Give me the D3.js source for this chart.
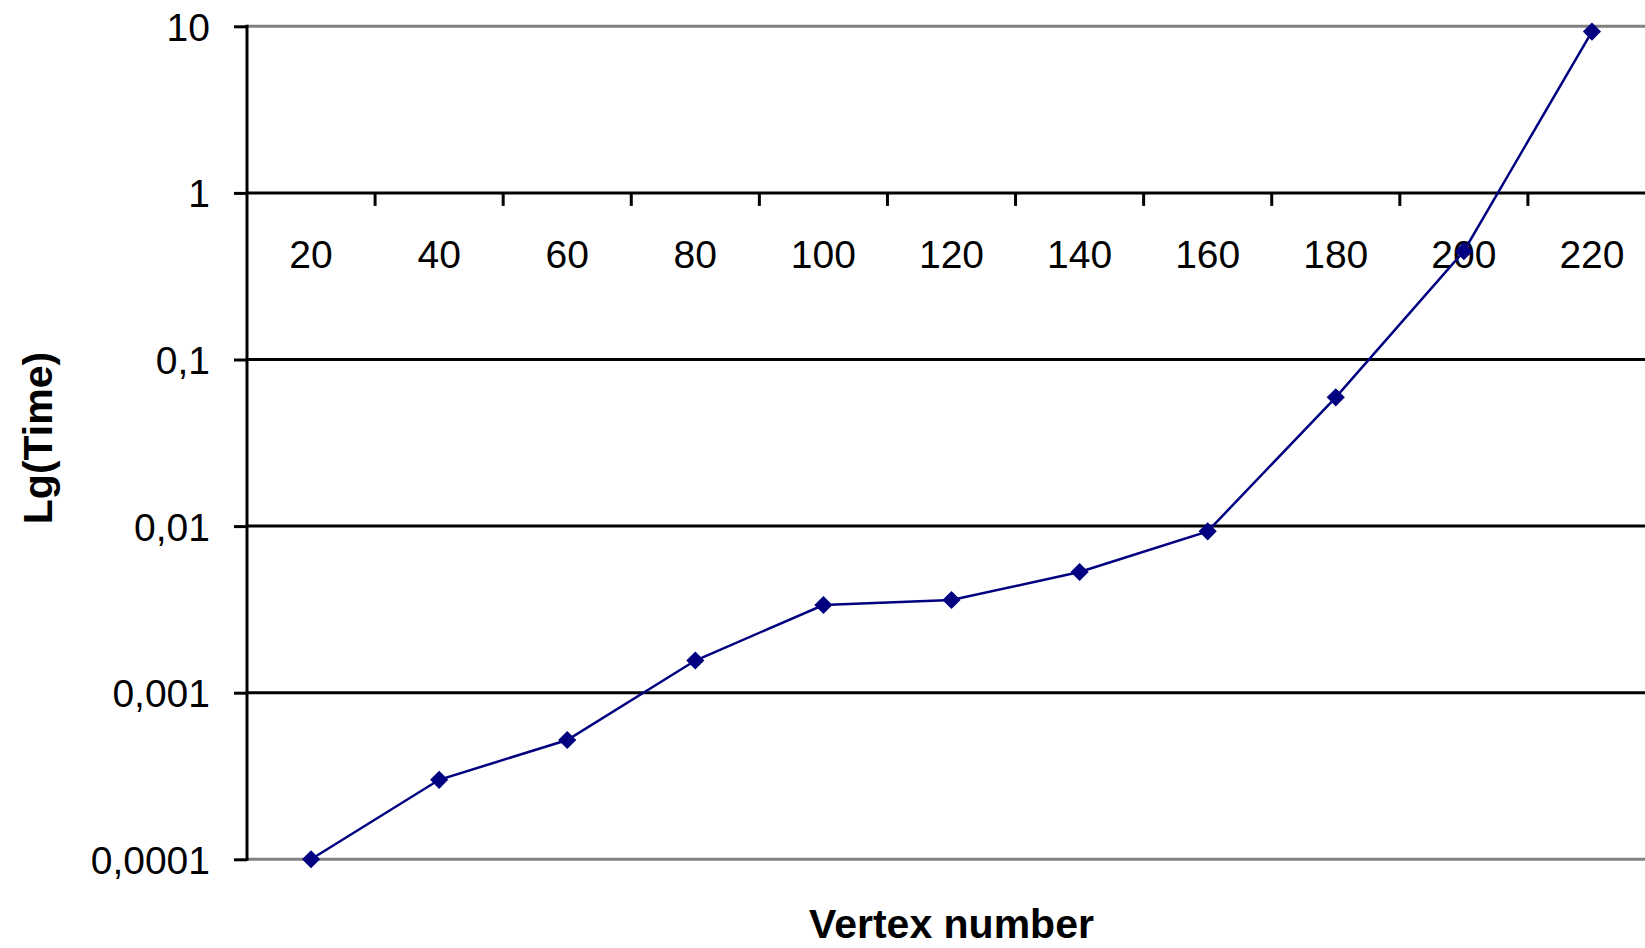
<!DOCTYPE html>
<html>
<head>
<meta charset="utf-8">
<script src="https://cdn.jsdelivr.net/npm/d3@7"></script>
<style>
  html, body { margin: 0; padding: 0; background: #fff; overflow: hidden; }
  text { font-family: "Liberation Sans", Arial, sans-serif; }
</style>
</head>
<body>
<div id="main"></div>
<script>
var ctx = {
    w: 1645,
    h: 948,
    NAVY: "#000080",
};

// data
var vertices = [20, 40, 60, 80, 100, 120, 140, 160, 180, 200, 220];
var times = [0.0001, 0.0003, 0.00052, 0.00156, 0.00336, 0.0036, 0.0053, 0.0093, 0.0593, 0.447, 9.3];
var yTicks = [10, 1, 0.1, 0.01, 0.001, 0.0001];
var yTickLabels = ["10", "1", "0,1", "0,01", "0,001", "0,0001"];

var createViz = function(){
    var svg = d3.select("#main").append("svg")
        .attr("width", ctx.w)
        .attr("height", ctx.h);

    ctx.xScale = d3.scaleBand().domain(vertices).range([247, 1656]);
    ctx.yScale = d3.scaleLog().domain([0.0001, 10]).range([859.3, 26.3]);

    var bkg = svg.append("g").attr("id", "bkgG");
    var x0 = ctx.xScale.range()[0], x1 = ctx.xScale.range()[1];

    // horizontal gridlines (outer ones are the grey plot border)
    bkg.selectAll("line.grid")
        .data(yTicks)
        .enter()
        .append("line")
        .attr("class", "grid")
        .attr("x1", x0)
        .attr("x2", x1)
        .attr("y1", function(d){ return ctx.yScale(d); })
        .attr("y2", function(d){ return ctx.yScale(d); })
        .style("stroke", function(d, i){ return (i == 0 || i == yTicks.length - 1) ? "#808080" : "#000"; })
        .style("stroke-width", 3);

    // y axis
    var yAxis = bkg.append("g")
        .attr("transform", "translate(" + x0 + ",0)")
        .call(d3.axisLeft(ctx.yScale)
            .tickValues(yTicks)
            .tickSize(13)
            .tickPadding(24)
            .tickFormat(function(d, i){ return yTickLabels[i]; }));
    yAxis.select(".domain").remove();
    yAxis.selectAll(".tick line").style("stroke", "#000").style("stroke-width", 3);
    yAxis.selectAll("text")
        .attr("fill", "#000")
        .style("font-size", "39px")
        .attr("dy", "0.36em");
    bkg.append("line")
        .attr("x1", x0).attr("x2", x0)
        .attr("y1", ctx.yScale(10) - 1.5)
        .attr("y2", ctx.yScale(0.0001) + 1.5)
        .style("stroke", "#000")
        .style("stroke-width", 3);

    // x axis crosses at 1, ticks between categories
    var y1 = ctx.yScale(1);
    var step = ctx.xScale.step();
    bkg.selectAll("line.xtick")
        .data(vertices.slice(1))
        .enter()
        .append("line")
        .attr("class", "xtick")
        .attr("x1", function(d){ return ctx.xScale(d); })
        .attr("x2", function(d){ return ctx.xScale(d); })
        .attr("y1", y1)
        .attr("y2", y1 + 13)
        .style("stroke", "#000")
        .style("stroke-width", 3);
    bkg.selectAll("text.xlab")
        .data(vertices)
        .enter()
        .append("text")
        .attr("class", "xlab")
        .attr("x", function(d){ return ctx.xScale(d) + step / 2; })
        .attr("y", y1 + 75)
        .style("text-anchor", "middle")
        .style("font-size", "39px")
        .text(function(d){ return d; });

    // axis titles
    bkg.append("text")
        .attr("x", (x0 + x1) / 2)
        .attr("y", 938)
        .style("text-anchor", "middle")
        .style("font-size", "41px")
        .style("font-weight", "bold")
        .text("Vertex number");
    bkg.append("text")
        .attr("transform", "translate(52,438) rotate(-90)")
        .style("text-anchor", "middle")
        .style("font-size", "41px")
        .style("font-weight", "bold")
        .text("Lg(Time)");

    // series
    var pts = vertices.map(function(v, i){ return {v: v, t: times[i]}; });
    var line = d3.line()
        .x(function(d){ return ctx.xScale(d.v) + step / 2; })
        .y(function(d){ return ctx.yScale(d.t); });
    svg.append("path")
        .datum(pts)
        .attr("d", line)
        .style("fill", "none")
        .style("stroke", ctx.NAVY)
        .style("stroke-width", 2.5);
    var diamond = d3.symbol().type(d3.symbolDiamond2).size(210);
    svg.selectAll("path.marker")
        .data(pts)
        .enter()
        .append("path")
        .attr("class", "marker")
        .attr("d", diamond())
        .attr("transform", function(d){ return "translate(" + (ctx.xScale(d.v) + step / 2) + "," + ctx.yScale(d.t) + ")"; })
        .style("fill", ctx.NAVY);
};

createViz();
</script>
</body>
</html>
